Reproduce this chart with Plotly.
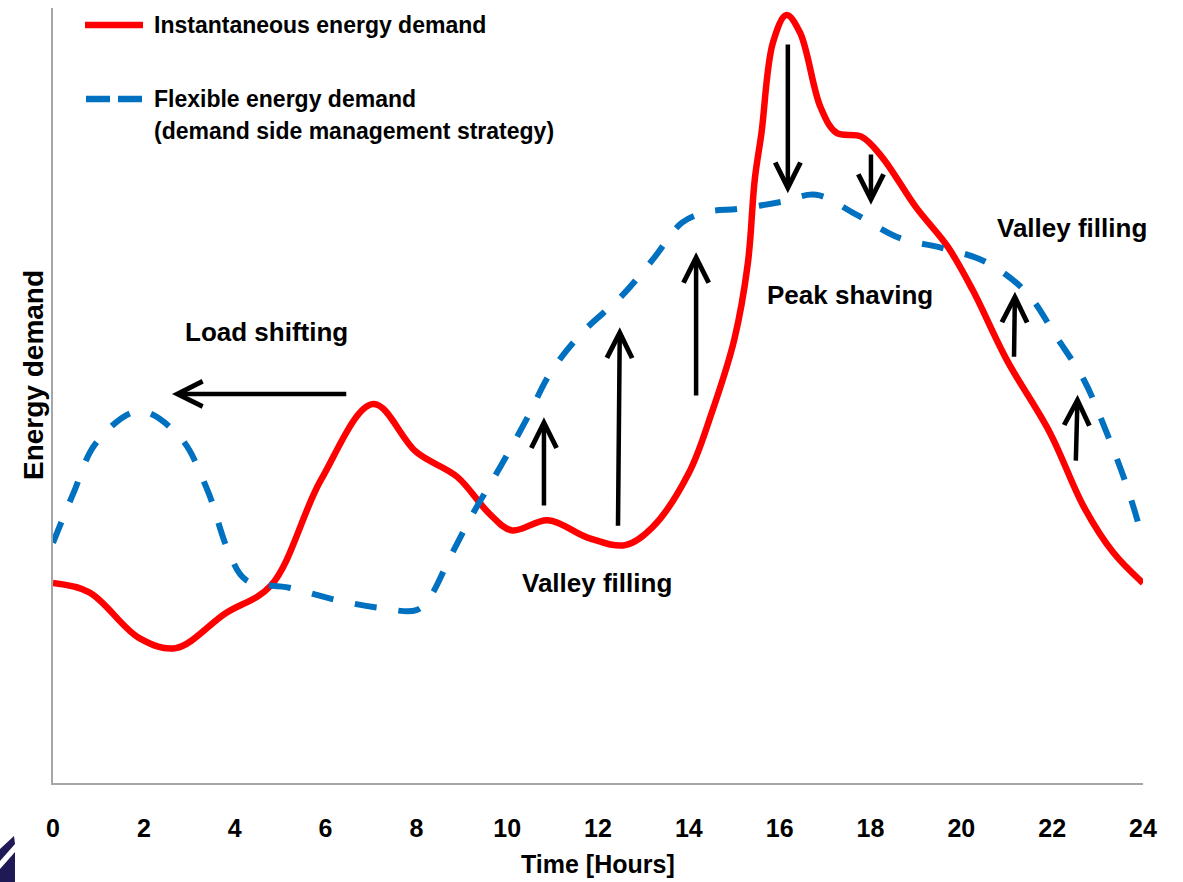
import plotly.graph_objects as go

# ---- data (hours, energy demand in % of axis height) ----
red_hours = [0, 0.8, 1.9, 2.7, 3.8, 4.8, 5.9, 7.05, 8.0, 8.9, 9.6, 10.1, 10.9, 11.8,
             12.6, 13.2, 14.0, 14.5, 15.0, 15.3, 15.45, 15.6, 15.85, 16.15, 16.45,
             16.9, 17.25, 17.8, 18.25, 19.0, 19.7, 20.25, 21.0, 21.95, 22.7, 23.35, 24]
red_values = [25.8, 24.6, 18.7, 17.4, 21.9, 25.5, 39.1, 48.9, 42.7, 39.5, 34.8, 32.6,
              33.9, 31.6, 30.7, 33.0, 40.0, 47.7, 57.2, 67.1, 77.8, 83.9, 95.5, 99.1,
              96.8, 87.2, 83.9, 83.4, 80.8, 74.3, 69.2, 63.6, 54.6, 45.2, 35.6, 29.7, 25.8]

blue_hours = [0, 0.45, 0.95, 1.9, 2.8, 3.4, 3.85, 4.25, 5.2, 6.25, 7.2, 8.0, 8.3, 8.75,
              9.25, 9.85, 10.45, 10.95, 11.65, 12.5, 13.2, 13.85, 14.4, 15.1, 16.05,
              16.8, 17.7, 18.65, 19.6, 20.55, 21.45, 22.1, 22.7, 23.2, 23.65, 24]
blue_values = [31.0, 37.4, 43.9, 48.0, 44.6, 37.8, 30.1, 26.2, 25.2, 23.6, 22.6, 22.3,
               24.0, 29.2, 34.8, 40.8, 47.2, 52.9, 58.1, 62.7, 67.5, 72.3, 73.7, 74.1,
               75.0, 75.9, 73.3, 70.3, 69.0, 67.2, 63.2, 57.5, 52.0, 45.2, 38.2, 31.4]

tick_values = [0, 2, 4, 6, 8, 10, 12, 14, 16, 18, 20, 22, 24]
tick_labels = [str(v) for v in tick_values]

# arrows: (tail_hour, tail_value, tip_hour, tip_value)
arrows = [
    (6.49, 50.2, 2.62, 50.2),
    (10.81, 35.6, 10.81, 47.2),
    (12.44, 33.0, 12.48, 58.8),
    (14.16, 49.8, 14.16, 68.5),
    (16.18, 95.5, 16.18, 76.1),
    (18.01, 81.3, 18.01, 74.6),
    (21.16, 54.8, 21.18, 63.4),
    (22.52, 41.4, 22.56, 50.1),
]
labels = [
    ("Load shifting", 4.69, 58.2),
    ("Valley filling", 11.98, 25.8),
    ("Peak shaving", 17.55, 63.0),
    ("Valley filling", 22.44, 71.6),
]

FONT = "Liberation Sans, Arial, sans-serif"
RED = "#ff0000"
BLUE = "#0070c0"

fig = go.Figure()
fig.add_trace(go.Scatter(x=red_hours, y=red_values, mode="lines",
                         line=dict(color=RED, width=6.5, shape="spline", smoothing=1.0),
                         name="Instantaneous energy demand", showlegend=False,
                         hoverinfo="skip"))
fig.add_trace(go.Scatter(x=blue_hours, y=blue_values, mode="lines",
                         line=dict(color=BLUE, width=6, shape="spline", smoothing=1.0,
                                   dash="22px,22px"),
                         name="Flexible energy demand", showlegend=False,
                         hoverinfo="skip"))

annotations = []
for (tx, ty, hx, hy) in arrows:
    annotations.append(dict(x=hx, y=hy, ax=tx, ay=ty, xref="x", yref="y",
                            axref="x", ayref="y", text="", showarrow=True,
                            arrowhead=5, arrowsize=1.1, arrowwidth=4.5,
                            arrowcolor="black", standoff=0, startstandoff=0))
for (t, x, y) in labels:
    annotations.append(dict(x=x, y=y, xref="x", yref="y", text=t,
                            showarrow=False,
                            font=dict(family=FONT, size=26, color="black", weight="bold"),
                            xanchor="center", yanchor="middle"))


def px_x(p):
    return (p - 53) / 1090.0


def px_y(p):
    return (783 - p) / 775.0


# legend (manual)
legend_font = dict(family=FONT, size=23, color="black", weight="bold")
annotations += [
    dict(x=px_x(152), y=px_y(25), xref="paper", yref="paper", xanchor="left",
         yanchor="middle", showarrow=False, text="Instantaneous energy demand",
         font=legend_font),
    dict(x=px_x(152), y=px_y(99), xref="paper", yref="paper", xanchor="left",
         yanchor="middle", showarrow=False, text="Flexible energy demand",
         font=legend_font),
    dict(x=px_x(152), y=px_y(131), xref="paper", yref="paper", xanchor="left",
         yanchor="middle", showarrow=False,
         text="(demand side management strategy)", font=legend_font),
    dict(x=px_x(598), y=px_y(864), xref="paper", yref="paper", xanchor="center",
         yanchor="middle", showarrow=False, text="Time [Hours]",
         font=dict(family=FONT, size=25, color="black", weight="bold")),
    dict(x=px_x(33), y=px_y(375), xref="paper", yref="paper", xanchor="center",
         yanchor="middle", showarrow=False, text="Energy demand", textangle=-90,
         font=dict(family=FONT, size=28, color="black", weight="bold")),
]

shapes = [
    dict(type="line", xref="paper", yref="paper", x0=px_x(85), x1=px_x(143),
         y0=px_y(25), y1=px_y(25), line=dict(color=RED, width=6.5)),
    dict(type="line", xref="paper", yref="paper", x0=px_x(86), x1=px_x(110),
         y0=px_y(99), y1=px_y(99), line=dict(color=BLUE, width=6.5)),
    dict(type="line", xref="paper", yref="paper", x0=px_x(118), x1=px_x(142),
         y0=px_y(99), y1=px_y(99), line=dict(color=BLUE, width=6.5)),
    # partial logo at bottom-left corner
    dict(type="path", xref="paper", yref="paper", fillcolor="#1f1a55", line=dict(width=0),
         path="M %f,%f L %f,%f L %f,%f L %f,%f Z" % (
             px_x(0), px_y(849), px_x(14), px_y(836), px_x(15), px_y(844), px_x(0), px_y(861))),
    dict(type="path", xref="paper", yref="paper", fillcolor="#1f1a55", line=dict(width=0),
         path="M %f,%f L %f,%f L %f,%f L %f,%f Z" % (
             px_x(0), px_y(869), px_x(15), px_y(852), px_x(15), px_y(882), px_x(0), px_y(882))),
]

fig.update_layout(
    width=1183, height=882,
    margin=dict(l=53, r=40, t=8, b=99),
    paper_bgcolor="white", plot_bgcolor="white",
    showlegend=False,
    annotations=annotations, shapes=shapes,
    xaxis=dict(range=[0, 24], tickmode="array", tickvals=tick_values, ticktext=tick_labels,
               showgrid=False, zeroline=False, showline=True, linecolor="#a6a6a6",
               linewidth=2, ticks="", ticklabelstandoff=22,
               tickfont=dict(family=FONT, size=25, color="black", weight="bold")),
    yaxis=dict(range=[0, 100], showticklabels=False, showgrid=False, zeroline=False,
               showline=True, linecolor="#a6a6a6", linewidth=2, ticks=""),
)

fig.write_html("out.html", config={"displayModeBar": False},
               post_script="document.body.style.margin='0px';document.body.style.overflow='hidden';")
